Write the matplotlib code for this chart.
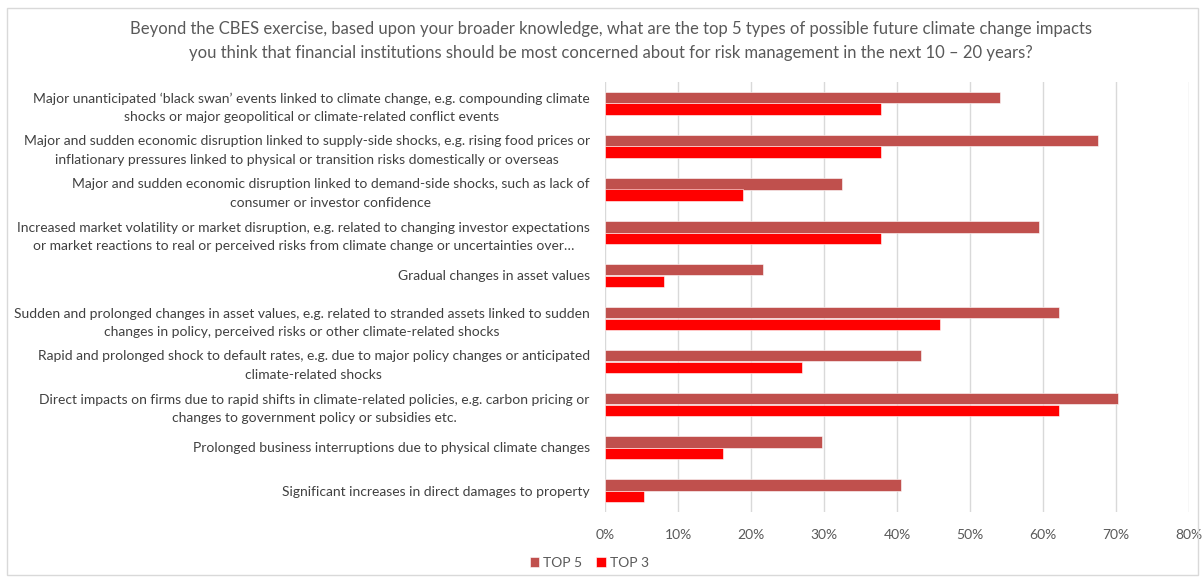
import matplotlib.pyplot as plt
import numpy as np
from matplotlib.patches import Rectangle

plt.rcParams['font.family'] = ['Lato', 'DejaVu Sans']

# survey answers, 37 respondents
categories = [
    "Major unanticipated \u2018black swan\u2019 events linked to climate change, e.g. compounding climate\nshocks or major geopolitical or climate-related conflict events",
    "Major and sudden economic disruption linked to supply-side shocks, e.g. rising food prices or\ninflationary pressures linked to physical or transition risks domestically or overseas",
    "Major and sudden economic disruption linked to demand-side shocks, such as lack of\nconsumer or investor confidence",
    "Increased market volatility or market disruption, e.g. related to changing investor expectations\nor market reactions to real or perceived risks from climate change or uncertainties over\u2026",
    "Gradual changes in asset values",
    "Sudden and prolonged changes in asset values, e.g. related to stranded assets linked to sudden\nchanges in policy, perceived risks or other climate-related shocks",
    "Rapid and prolonged shock to default rates, e.g. due to major policy changes or anticipated\nclimate-related shocks",
    "Direct impacts on firms due to rapid shifts in climate-related policies, e.g. carbon pricing or\nchanges to government policy or subsidies etc.",
    "Prolonged business interruptions due to physical climate changes",
    "Significant increases in direct damages to property",
]
top5 = [54.05, 67.57, 32.43, 59.46, 21.62, 62.16, 43.24, 70.27, 29.73, 40.54]
top3 = [37.84, 37.84, 18.92, 37.84, 8.11, 45.95, 27.03, 62.16, 16.22, 5.41]
xticks = [0, 10, 20, 30, 40, 50, 60, 70, 80]

title = ("Beyond the CBES exercise, based upon your broader knowledge, what are the top 5 types of possible future climate change impacts\n"
         "you think that financial institutions should be most concerned about for risk management in the next 10 \u2013 20 years?")

grey = '#595959'
fig = plt.figure(figsize=(12.03, 5.80), dpi=100)
fig.patches.append(Rectangle((0.006, 0.008), 0.99, 0.978, transform=fig.transFigure,
                             fill=False, edgecolor='#D9D9D9', linewidth=1))

ax = fig.add_axes([605 / 1203, 1 - 512 / 580, (1189 - 605) / 1203, (512 - 82) / 580])

y = np.arange(len(categories))
h = 0.27
ax.barh(y - h / 2, top5, height=h, color='#C0504D', edgecolor='white', linewidth=0.4, label='TOP 5', zorder=3)
ax.barh(y + h / 2, top3, height=h, color='#FF0000', edgecolor='white', linewidth=0.4, label='TOP 3', zorder=3)

ax.set_ylim(len(categories) - 0.5, -0.5)
ax.set_xlim(0, 80)
ax.set_xticks(xticks)
ax.set_xticklabels([f"{t}%" for t in xticks], color=grey, fontsize=10)
ax.set_yticks(y)
ax.set_yticklabels(categories, color='#404040', fontsize=10, multialignment='center', linespacing=1.65)
ax.tick_params(axis='both', length=0)
ax.tick_params(axis='x', pad=12)
ax.tick_params(axis='y', pad=11)
ax.grid(axis='x', color='#D9D9D9', linewidth=1, zorder=0)
for s in ['top', 'right', 'bottom', 'left']:
    ax.spines[s].set_visible(False)

fig.text(0.508, 0.963, title, ha='center', va='top', color=grey, fontsize=12, linespacing=1.55)

fig.legend(loc='center', bbox_to_anchor=(0.49, 0.029), ncol=2, frameon=False, fontsize=10,
           handlelength=0.7, handleheight=0.7, handletextpad=0.3, columnspacing=1.0,
           labelcolor=grey)

fig.savefig('out.png', dpi=100)
